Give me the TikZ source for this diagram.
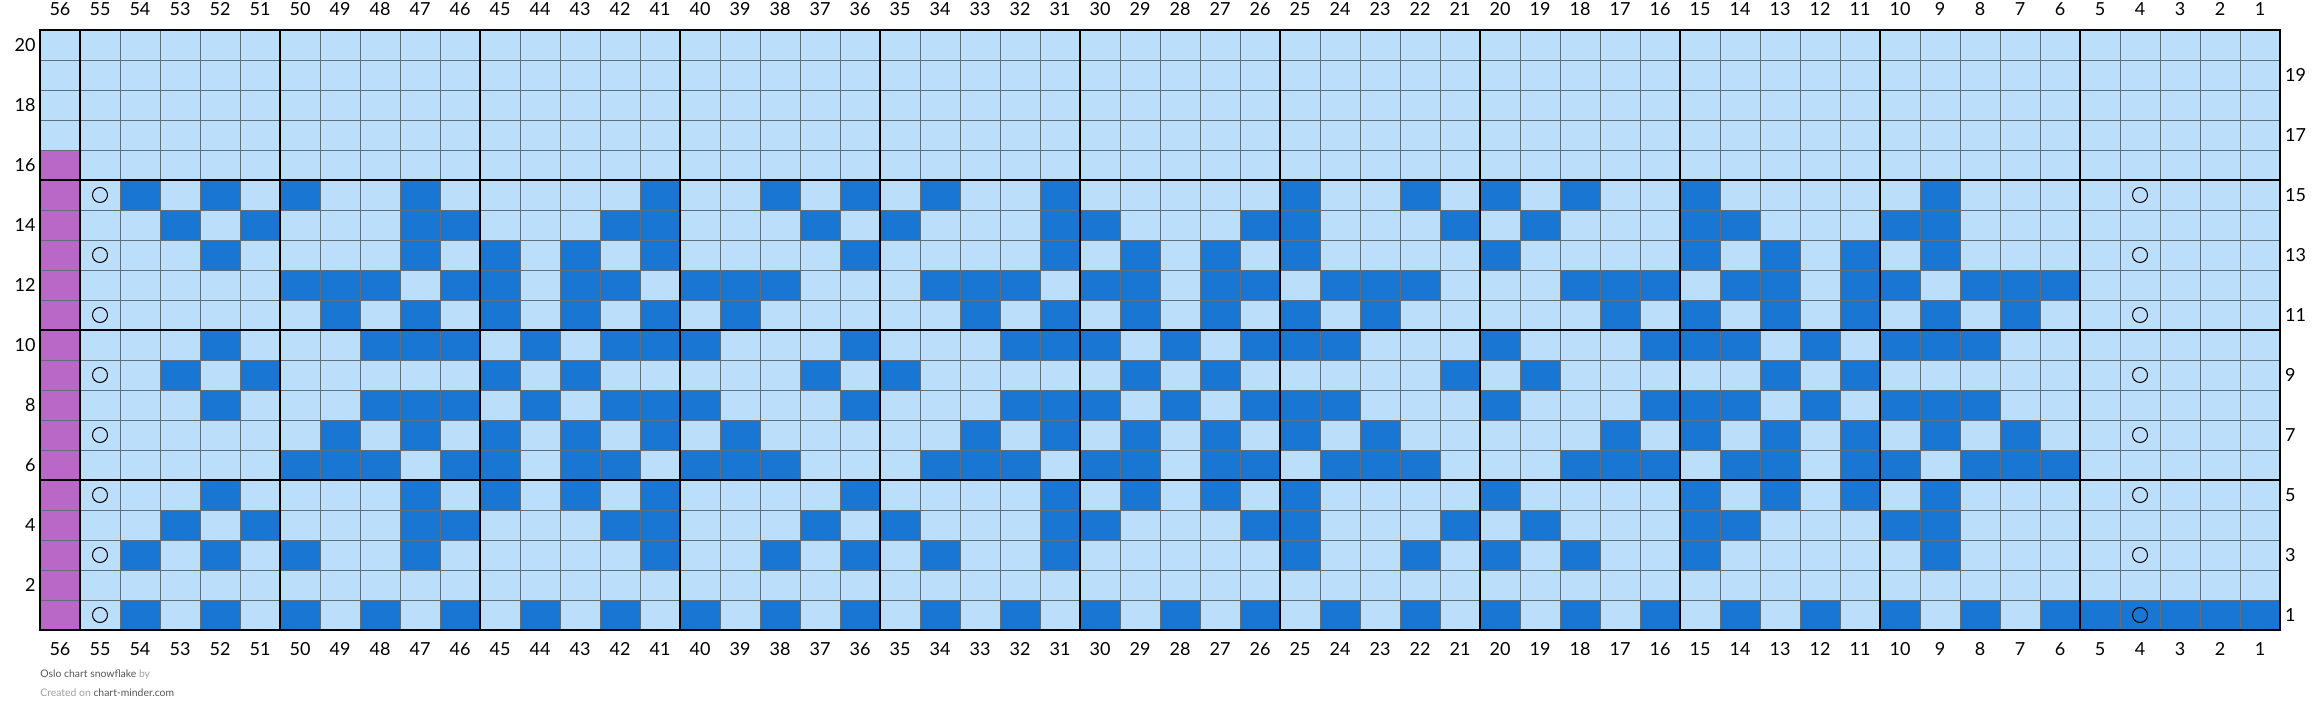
\documentclass[tikz,border=0pt]{standalone}
\usepackage{fontspec}
\setmainfont{Lato}
\usetikzlibrary{positioning}
\definecolor{lightcell}{HTML}{BBDEFB}
\definecolor{darkcell}{HTML}{1976D2}
\definecolor{edgecell}{HTML}{BA68C8}
\definecolor{gridline}{HTML}{5F6F7C}
\definecolor{footdark}{HTML}{555555}
\definecolor{footlight}{HTML}{9E9E9E}
\tikzset{
thingrid/.style = {draw=gridline, line width=0.45pt},
thickgrid/.style = {draw=black, line width=1pt},
purl/.style = {draw, circle, inner sep=0pt, minimum size=7.5pt, line width=0.5pt},
collabel/.style = {font=\fontsize{9}{10}\selectfont, inner sep=0pt},
rowlabel/.style = {font=\fontsize{9}{10}\selectfont, inner sep=0pt},
footer/.style = {font=\fontsize{5.2}{6}\selectfont, inner sep=0pt, anchor=west}
}
% one dark stitch: column, row
\newcommand\darkcell[2]{\fill[darkcell] (56-#1,#2-1) rectangle ++(1,1);}

\begin{document}
\begin{tikzpicture}[x=20pt, y=15pt]
    \useasboundingbox (-1,-3.1) rectangle (57,21);
    \fill[lightcell] (0,0) rectangle (56,20);
    \fill[edgecell] (0,0) rectangle (1,16);
    % snowflake rows
    \foreach \r in {3,15} {\foreach \c in {54,52,50,47,41,38,36,34,31,25,22,20,18,15,9} {\darkcell{\c}{\r}}}
    \foreach \r in {4,14} {\foreach \c in {53,51,47,46,42,41,37,35,31,30,26,25,21,19,15,14,10,9} {\darkcell{\c}{\r}}}
    \foreach \r in {5,13} {\foreach \c in {52,47,45,43,41,36,31,29,27,25,20,15,13,11,9} {\darkcell{\c}{\r}}}
    \foreach \r in {6,12} {\foreach \c in {50,49,48,46,45,43,42,40,39,38,34,33,32,30,29,27,26,24,23,22,18,17,16,14,13,11,10,8,7,6} {\darkcell{\c}{\r}}}
    \foreach \r in {7,11} {\foreach \c in {49,47,45,43,41,39,33,31,29,27,25,23,17,15,13,11,9,7} {\darkcell{\c}{\r}}}
    \foreach \r in {8,10} {\foreach \c in {52,48,47,46,44,42,41,40,36,32,31,30,28,26,25,24,20,16,15,14,12,10,9,8} {\darkcell{\c}{\r}}}
    \foreach \c in {53,51,45,43,37,35,29,27,21,19,13,11} {\darkcell{\c}{9}}
    \foreach \c in {54,52,...,6,5,4,3,2,1} {\darkcell{\c}{1}}
    % grid
    \draw[thingrid, step=1] (0,0) grid (56,20);
    \foreach \x in {1,6,...,51} {\draw[thickgrid] (\x,0) -- (\x,20);}
    \foreach \y in {5,10,15} {\draw[thickgrid] (0,\y) -- (56,\y);}
    \draw[thickgrid] (0,0) rectangle (56,20);
    \foreach \r in {1,3,...,15} {
        \node[purl] (purlA\r) at (1.5,\r-0.5) {};
        \node[purl] (purlB\r) at (52.5,\r-0.5) {};
    }
    % numbering
    \foreach \c in {1,...,56} {
        \node[collabel] (top\c) at (56.5-\c,20.7) {\c};
        \node[collabel] (bottom\c) at (56.5-\c,-0.633) {\c};
    }
    \foreach \r in {2,4,...,20} {\node[rowlabel, anchor=east] (left\r) at (-0.1,\r-0.5) {\r};}
    \foreach \r in {1,3,...,19} {\node[rowlabel, anchor=west] (right\r) at (56.12,\r-0.5) {\r};}
    \node[footer] (title) at (0,-1.5) {\textcolor{footdark}{Oslo chart snowflake} \textcolor{footlight}{by}};
    \node[footer] (credit) at (0,-2.1) {\textcolor{footlight}{Created on} \textcolor{footdark}{chart-minder.com}};
\end{tikzpicture}
\end{document}
